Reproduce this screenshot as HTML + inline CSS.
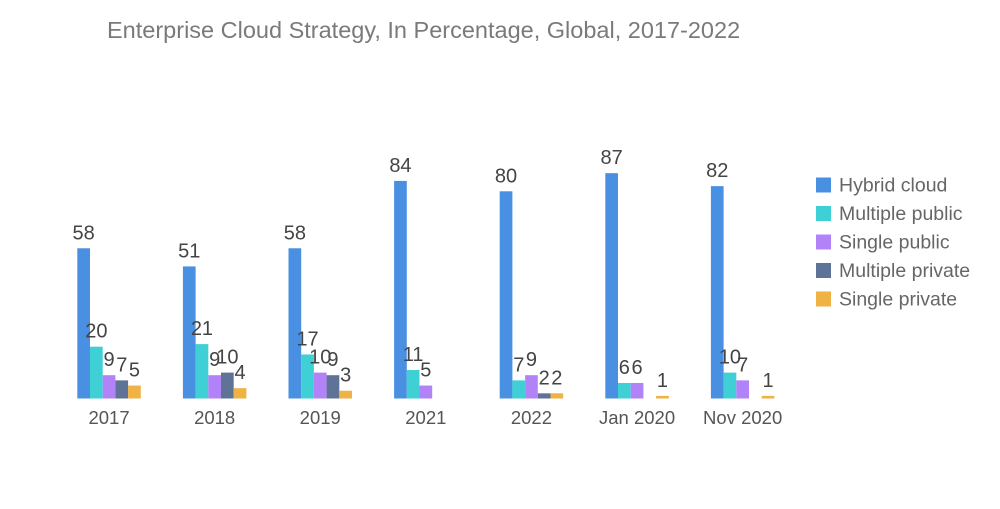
<!DOCTYPE html>
<html><head><meta charset="utf-8"><style>
body{margin:0;background:#fff;width:1000px;height:504px;overflow:hidden;font-family:"Liberation Sans",sans-serif}
</style></head><body>
<svg id="chart" width="1000" height="504">
<text x="107" y="38" font-size="23.5" fill="#7a7a7a">Enterprise Cloud Strategy, In Percentage, Global, 2017-2022</text>
<g id="bars"></g>
<g id="legend"></g>
</svg>
<script>
const categories = ["2017","2018","2019","2021","2022","Jan 2020","Nov 2020"];
const seriesNames = ["Hybrid cloud","Multiple public","Single public","Multiple private","Single private"];
const hybridCloud = [58,51,58,84,80,87,82];
const multiplePublic = [20,21,17,11,7,6,10];
const singlePublic = [9,9,10,5,9,6,7];
const multiplePrivate = [7,10,9,0,2,0,0];
const singlePrivate = [5,4,3,0,2,1,1];
const colors = ["#4a90e2","#3fd0d6","#b283f8","#5f7396","#efb244"];
const series = [hybridCloud,multiplePublic,singlePublic,multiplePrivate,singlePrivate];
const NS="http://www.w3.org/2000/svg";
const baseY=398.5, pxPerUnit=2.59, groupStart=77.3, groupStep=105.6, barW=12.7;
function yScale(v){return baseY - v*pxPerUnit;}
function xScale(ci,si){return groupStart + ci*groupStep + si*barW;}
const g=document.getElementById('bars');
categories.forEach((c,ci)=>{
  series.forEach((s,si)=>{
    const v=s[ci]; if(!v) return;
    const r=document.createElementNS(NS,'rect');
    r.setAttribute('x',xScale(ci,si));r.setAttribute('y',yScale(v));
    r.setAttribute('width',barW);r.setAttribute('height',v*pxPerUnit);
    r.setAttribute('fill',colors[si]);
    
    
    g.appendChild(r);
    const t=document.createElementNS(NS,'text');
    t.setAttribute('x',xScale(ci,si)+barW/2);t.setAttribute('y',yScale(v)-9);
    t.setAttribute('text-anchor','middle');t.setAttribute('font-size','20');t.setAttribute('fill','#444');
    t.textContent=v;
    
    
    g.appendChild(t);
  });
  const t=document.createElementNS(NS,'text');
  t.setAttribute('x',xScale(ci,0)+barW*2.5);t.setAttribute('y',424);
  t.setAttribute('text-anchor','middle');t.setAttribute('font-size','18.5');t.setAttribute('fill','#555');
  t.textContent=c;
  
  
  g.appendChild(t);
});
const lg=document.getElementById('legend');
seriesNames.forEach((n,i)=>{
  const cy=185+i*28.5;
  const r=document.createElementNS(NS,'rect');
  r.setAttribute('x',816);r.setAttribute('y',cy-7.5);r.setAttribute('width',15);r.setAttribute('height',15);r.setAttribute('fill',colors[i]);
  
  
  lg.appendChild(r);
  const t=document.createElementNS(NS,'text');
  t.setAttribute('x',839);t.setAttribute('y',cy+6.5);t.setAttribute('font-size','19.5');t.setAttribute('fill','#666');
  t.textContent=n;
  
  
  lg.appendChild(t);
});
</script>
</body></html>
